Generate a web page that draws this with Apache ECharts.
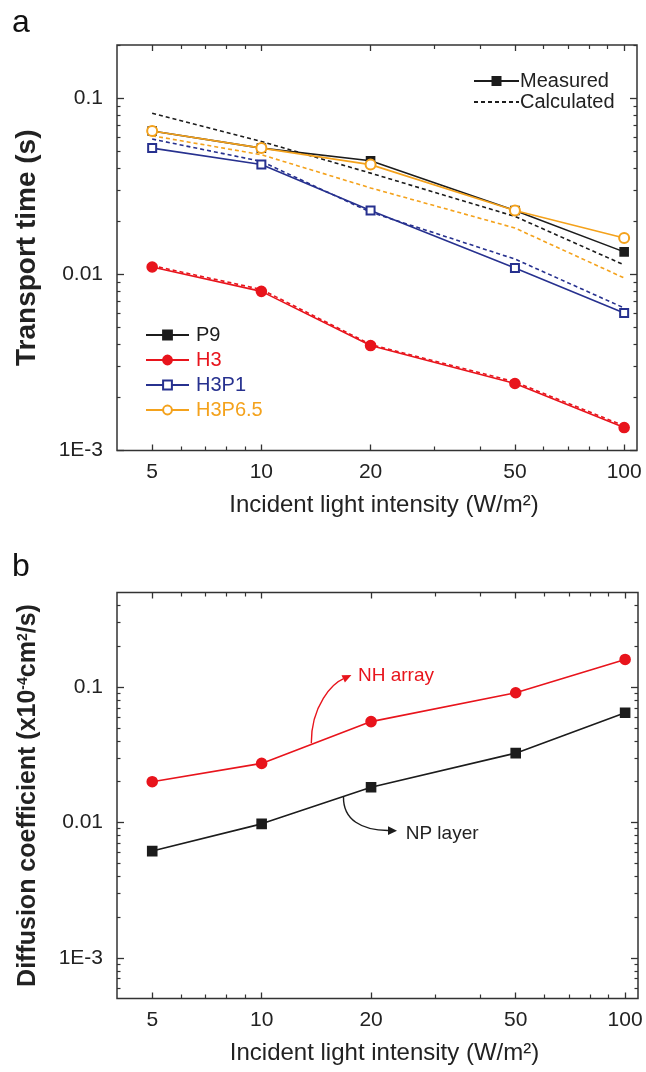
<!DOCTYPE html>
<html>
<head>
<meta charset="utf-8">
<script src="https://cdn.jsdelivr.net/npm/echarts@6/dist/echarts.min.js"></script>
<style>
html,body{margin:0;padding:0;background:#fff;}
#chart{width:646px;height:1072px;}
</style>
</head>
<body>
<div id="chart"></div>
<script>
// ---------- DATA ----------
var intensity = [5, 10, 20, 50, 100];

// Panel a: transport time (s)
var P9_meas    = [0.065, 0.052, 0.0441, 0.0230, 0.0134];
var P9_calc    = [0.082, 0.0567, 0.0375, 0.0213, 0.0113];
var H3_meas    = [0.0110, 0.0080, 0.00394, 0.00240, 0.00135];
var H3_calc    = [0.0112, 0.0082, 0.00400, 0.00245, 0.00138];
var H3P1_meas  = [0.052, 0.0420, 0.0230, 0.01086, 0.00603];
var H3P1_calc  = [0.0585, 0.0437, 0.0225, 0.0122, 0.00644];
var H3P65_meas = [0.0650, 0.0520, 0.0419, 0.0230, 0.01607];
var H3P65_calc = [0.0611, 0.0477, 0.0309, 0.0183, 0.00953];

// Panel b: diffusion coefficient (x10^-4 cm^2/s)
var NH_array = [0.0200, 0.0273, 0.0556, 0.0908, 0.160];
var NP_layer = [0.00614, 0.00976, 0.0182, 0.0325, 0.0647];

// Tick labels / tick positions
var xLabelTicks = [5, 10, 20, 50, 100];
var xMinorTicks = [6, 7, 8, 9, 30, 40, 60, 70, 80, 90];
var yMajorA = [0.001, 0.01, 0.1];
var yMinorA = [0.002,0.003,0.004,0.005,0.006,0.007,0.008,0.009,
               0.02,0.03,0.04,0.05,0.06,0.07,0.08,0.09,0.2];
var yMajorB = [0.001, 0.01, 0.1];
var yMinorB = [0.0006,0.0007,0.0008,0.0009,
               0.002,0.003,0.004,0.005,0.006,0.007,0.008,0.009,
               0.02,0.03,0.04,0.05,0.06,0.07,0.08,0.09,
               0.2,0.3,0.4];
var yLabelText = {'0.001':'1E-3','0.01':'0.01','0.1':'0.1'};

// ---------- STYLE ----------
var C_BLACK = '#1c1c1c', C_RED = '#e8141c', C_BLUE = '#27318f', C_ORANGE = '#f4a21c';
var TXT = '#222';
var FONT = '"Liberation Sans", Arial, Helvetica, sans-serif';

function pairs(ys){ return intensity.map(function(x,i){ return [x, ys[i]]; }); }

var X_MIN = 4, X_MAX = 108.5;

function xAxes(grid){
  var base = {type:'log', logBase:10, gridIndex:grid, min:X_MIN, max:X_MAX,
              splitLine:{show:false}, axisLine:{show:false}, axisPointer:{show:false}};
  return [
    Object.assign({}, base, {position:'bottom',
      name: 'Incident light intensity (W/m²)', nameLocation:'middle', nameGap:43,
      nameTextStyle:{fontFamily:FONT, fontSize:24, color:TXT, padding:[0,0,0,14]},
      axisTick:{show:true, inside:true, length:6, customValues:xLabelTicks, lineStyle:{color:'#333', width:1.3}},
      axisLabel:{show:true, margin:11, customValues:xLabelTicks, fontFamily:FONT, fontSize:21, color:TXT,
                 formatter:function(v){ return String(Math.round(v)); }}}),
    Object.assign({}, base, {position:'bottom',
      axisTick:{show:true, inside:true, length:4, customValues:xMinorTicks, lineStyle:{color:'#333', width:1.2}},
      axisLabel:{show:false}}),
    Object.assign({}, base, {position:'top',
      axisTick:{show:true, inside:true, length:6, customValues:xLabelTicks, lineStyle:{color:'#333', width:1.3}},
      axisLabel:{show:false}}),
    Object.assign({}, base, {position:'top',
      axisTick:{show:true, inside:true, length:4, customValues:xMinorTicks, lineStyle:{color:'#333', width:1.2}},
      axisLabel:{show:false}})
  ];
}
function yAxes(grid, min, max, major, minor, title, nameStyle){
  var base = {type:'log', logBase:10, gridIndex:grid, min:min, max:max,
              splitLine:{show:false}, axisLine:{show:false}, axisPointer:{show:false}};
  return [
    Object.assign({}, base, {position:'left',
      name: title, nameLocation:'middle', nameGap:76,
      nameTextStyle: nameStyle,
      axisTick:{show:true, inside:true, length:7, customValues:major, lineStyle:{color:'#333', width:1.3}},
      axisLabel:{show:true, margin:14, customValues:major, fontFamily:FONT, fontSize:21, color:TXT,
                 formatter:function(v){ var k = String(+v.toPrecision(3)); return yLabelText[k] || k; }}}),
    Object.assign({}, base, {position:'left',
      axisTick:{show:true, inside:true, length:3.5, customValues:minor, lineStyle:{color:'#333', width:1.2}},
      axisLabel:{show:false}}),
    Object.assign({}, base, {position:'right',
      axisTick:{show:true, inside:true, length:7, customValues:major, lineStyle:{color:'#333', width:1.3}},
      axisLabel:{show:false}}),
    Object.assign({}, base, {position:'right',
      axisTick:{show:true, inside:true, length:3.5, customValues:minor, lineStyle:{color:'#333', width:1.2}},
      axisLabel:{show:false}})
  ];
}

function lineSeries(name, ys, color, dashed, symbol, size, xi, yi, z){
  return {
    type:'line', name:name, data: ys ? pairs(ys) : [], xAxisIndex:xi, yAxisIndex:yi,
    symbol: symbol, symbolSize: size, showSymbol: symbol !== 'none',
    lineStyle:{color:color, width:1.6, type: dashed ? [4,3] : 'solid'},
    itemStyle:{color:color, borderColor:color, borderWidth:1.6},
    z: z || 2, animation:false, silent:true
  };
}

var chart = echarts.init(document.getElementById('chart'), null, {renderer:'canvas'});

var titleA = {fontFamily:FONT, fontSize:28, fontWeight:'bold', color:TXT};
var titleB = {fontFamily:FONT, fontSize:25, fontWeight:'bold', color:TXT,
              rich:{sup:{fontFamily:FONT, fontSize:14, fontWeight:'bold', color:TXT, verticalAlign:'top', padding:[0,0,10,0]}}};

var option = {
  backgroundColor:'#fff',
  animation:false,
  grid:[
    {left:117, top:45, width:520, height:405.5, show:true, borderColor:'#333', borderWidth:1.5, backgroundColor:'transparent'},
    {left:117, top:592.5, width:521, height:406, show:true, borderColor:'#333', borderWidth:1.5, backgroundColor:'transparent'}
  ],
  xAxis: xAxes(0).concat(xAxes(1)),
  yAxis: yAxes(0, 0.001, 0.2, yMajorA, yMinorA, 'Transport time (s)', titleA)
    .concat(yAxes(1, 0.0005, 0.5, yMajorB, yMinorB, 'Diffusion coefficient (x10{sup|-4}cm{sup|2}/s)', titleB)),
  legend:[
    {
      left:140, top:320, orient:'vertical', itemWidth:43, itemHeight:11, itemGap:5,
      selectedMode:false,
      textStyle:{fontFamily:FONT, fontSize:20, padding:[0,0,0,2]},
      data:[
        {name:'P9', textStyle:{color:C_BLACK}},
        {name:'H3', textStyle:{color:C_RED}},
        {name:'H3P1', textStyle:{color:C_BLUE}},
        {name:'H3P6.5', textStyle:{color:C_ORANGE}}
      ]
    },
    {
      left:468, top:66, orient:'vertical', itemWidth:45, itemHeight:10, itemGap:1,
      selectedMode:false,
      textStyle:{fontFamily:FONT, fontSize:20, color:TXT, padding:[0,0,0,-4]},
      data:[
        'Measured',
        {name:'Calculated', itemStyle:{color:'transparent', borderColor:'transparent', borderWidth:0}}
      ]
    }
  ],
  series:[
    // calculated (dashed)
    lineSeries('P9 calc',   P9_calc,    C_BLACK,  true, 'none', 0, 0, 0, 2),
    lineSeries('H3P65 calc',H3P65_calc, C_ORANGE, true, 'none', 0, 0, 0, 2),
    lineSeries('H3P1 calc', H3P1_calc,  C_BLUE,   true, 'none', 0, 0, 0, 2),
    lineSeries('H3 calc',   H3_calc,    C_RED,    true, 'none', 0, 0, 0, 2),
    // measured
    lineSeries('P9',     P9_meas,    C_BLACK,  false, 'rect', 8, 0, 0, 3),
    lineSeries('H3',     H3_meas,    C_RED,    false, 'circle', 10, 0, 0, 3),
    lineSeries('H3P1',   H3P1_meas,  C_BLUE,   false, 'emptyRect', 8, 0, 0, 3),
    lineSeries('H3P6.5', H3P65_meas, C_ORANGE, false, 'emptyCircle', 10, 0, 0, 4),
    // legend keys
    lineSeries('Measured',   null, C_BLACK, false, 'rect', 8, 0, 0, 1),
    lineSeries('Calculated', null, C_BLACK, true,  'none', 0, 0, 0, 1),
    // panel b
    lineSeries('NH array', NH_array, C_RED,   false, 'circle', 10, 4, 4, 3),
    lineSeries('NP layer', NP_layer, C_BLACK, false, 'rect', 9, 4, 4, 3)
  ],
  graphic:[
    {type:'text', left:12, top:7, style:{text:'a', font:'32px '+FONT, fill:'#111'}},
    {type:'text', left:12, top:551, style:{text:'b', font:'32px '+FONT, fill:'#111'}},
    // NH array annotation
    {type:'bezierCurve', shape:{x1:311.3, y1:743.3, cpx1:311, cpy1:705, cpx2:333, cpy2:683, x2:343.2, y2:678.8},
     style:{stroke:C_RED, lineWidth:1.4, fill:null}, silent:true},
    {type:'polygon', shape:{points:[[351.4,675],[344.9,682.4],[341.5,675.2]]}, style:{fill:C_RED}, silent:true},
    {type:'text', x:358, y:675.7, style:{text:'NH array', font:'19px '+FONT, fill:C_RED, verticalAlign:'middle', align:'left'}},
    // NP layer annotation
    {type:'bezierCurve', shape:{x1:343.5, y1:796.7, cpx1:343, cpy1:820, cpx2:362, cpy2:830.3, x2:388, y2:830.5},
     style:{stroke:C_BLACK, lineWidth:1.4, fill:null}, silent:true},
    {type:'polygon', shape:{points:[[397,830.7],[388,826.3],[388,835]]}, style:{fill:C_BLACK}, silent:true},
    {type:'text', x:405.7, y:833.3, style:{text:'NP layer', font:'19px '+FONT, fill:TXT, verticalAlign:'middle', align:'left'}}
  ]
};
chart.setOption(option);
</script>
</body>
</html>
